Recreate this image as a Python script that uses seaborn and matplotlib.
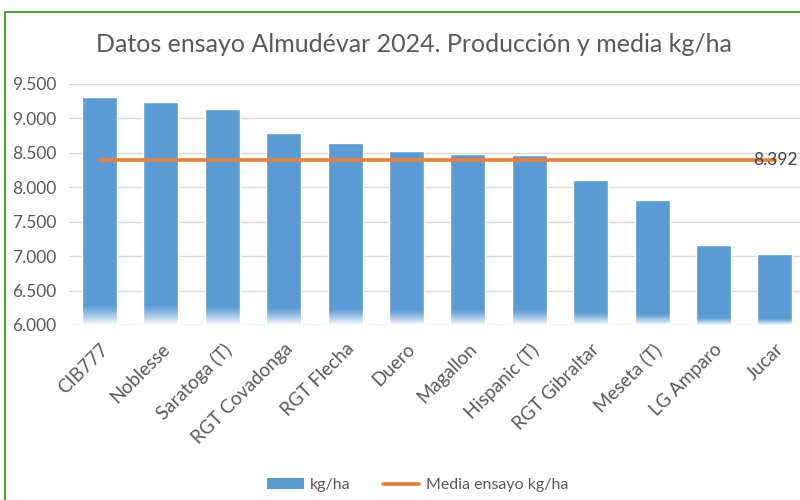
import numpy as np
import pandas as pd
import seaborn as sns
import matplotlib.pyplot as plt
from matplotlib.patches import Patch
from matplotlib.lines import Line2D
from matplotlib.ticker import FuncFormatter

variedades = ['CIB777', 'Noblesse', 'Saratoga (T)', 'RGT Covadonga', 'RGT Flecha',
              'Duero', 'Magallon', 'Hispanic (T)', 'RGT Gibraltar', 'Meseta (T)',
              'LG Amparo', 'Jucar']
kg_ha = [9316, 9233, 9137, 8783, 8638, 8527, 8479, 8469, 8111, 7817, 7163, 7027]
media = 8392

azul = '#5b9bd5'
naranja = '#ed7d31'
gris = '#595959'

sns.set_style('white')
plt.rcParams['font.family'] = ['Lato', 'DejaVu Sans']

df = pd.DataFrame({'variedad': variedades, 'kg/ha': kg_ha})

fig = plt.figure(figsize=(8, 5), dpi=100)
ax = fig.add_axes([0.086, 0.35, 0.921, 0.482])

sns.barplot(data=df, x='variedad', y='kg/ha', color=azul, saturation=1,
            width=0.57, ax=ax, zorder=2)

# degradado blanco en la base de las barras
grad = np.ones((100, 1, 4))
grad[:, 0, 3] = np.linspace(1, 0, 100) ** 1.3
for p, v in zip(ax.patches, kg_ha):
    fade = 0.09 * (v - 6000)
    ax.imshow(grad, extent=(p.get_x(), p.get_x() + p.get_width(), 6000, 6000 + fade),
              origin='lower', aspect='auto', zorder=3, interpolation='bilinear')

ax.plot(range(len(variedades)), [media] * len(variedades), color=naranja, lw=2.6, zorder=4)
ax.annotate(f"{media:,}".replace(',', '.'), (len(variedades) - 1, media),
            ha='center', va='center', fontsize=12.5, color='#404040', zorder=5)

ax.set_xlim(-0.5, len(variedades) - 0.5)
ax.set_ylim(6000, 9500)
ax.set_yticks(range(6000, 10000, 500))
ax.yaxis.set_major_formatter(FuncFormatter(lambda v, _: f"{v:,.0f}".replace(',', '.')))
ax.grid(axis='y', color='#d9d9d9', lw=1, zorder=0)
ax.set_axisbelow(True)
for s in ax.spines.values():
    s.set_visible(False)
ax.tick_params(axis='y', length=0, labelsize=12.5, labelcolor=gris, pad=9)
ax.tick_params(axis='x', length=0, labelsize=13.5, labelcolor=gris, pad=11)
plt.setp(ax.get_xticklabels(), rotation=45, ha='right', rotation_mode='anchor')
ax.set_xlabel('')
ax.set_ylabel('')

fig.text(0.518, 0.91, 'Datos ensayo Almudévar 2024. Producción y media kg/ha',
         ha='center', va='center', fontsize=18, color=gris)

handles = [Patch(facecolor=azul, edgecolor='none'),
           Line2D([0], [0], color=naranja, lw=2.6)]
fig.legend(handles, ['kg/ha', 'Media ensayo kg/ha'], loc='center', ncol=2,
           bbox_to_anchor=(0.522, 0.03), frameon=False, fontsize=11.5,
           labelcolor=gris, handlelength=2.3, handletextpad=0.4, columnspacing=2.0)

# marco verde
fig.add_artist(Line2D([5 / 800, 5 / 800], [0, 1 - 12 / 500], color='#4aa832', lw=1.5,
                      transform=fig.transFigure))
fig.add_artist(Line2D([5 / 800, 1], [1 - 12 / 500, 1 - 12 / 500], color='#4aa832', lw=1.5,
                      transform=fig.transFigure))

fig.savefig('out.png', dpi=100, facecolor='white')
